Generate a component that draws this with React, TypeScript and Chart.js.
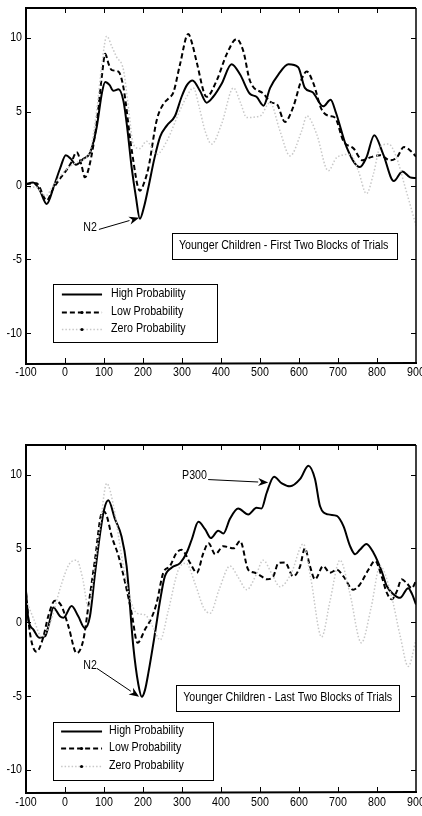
import React, { useEffect, useRef } from "react";
import { Chart, registerables } from "chart.js";

Chart.register(...registerables);

const FONT = "'Liberation Sans', Arial, sans-serif";
const SQUEEZE = 0.82; // horizontal condensing to mimic the narrow Helvetica of the original

// ---------- shared axis data ----------
const xTicks = [-100, 0, 100, 200, 300, 400, 500, 600, 700, 800, 900];
const yTicks = [-10, -5, 0, 5, 10];
const seriesLabels = ["High Probability", "Low Probability", "Zero Probability"];
const topTitle = "Younger Children - First Two Blocks of Trials";
const bottomTitle = "Younger Children - Last Two Blocks of Trials";

// ---------- top panel (first two blocks) : [time ms, amplitude µV] ----------
const topHigh: [number, number][] = [
  [-100, 0.1], [-82, 0.2], [-65, -0.3], [-47, -1.25], [-28, 0], [-12, 1.2], [2, 2.05], [15, 1.8],
  [28, 1.4], [47, 1.8], [64, 2.2], [81, 3.9], [95, 6.3], [103, 7.0], [114, 6.8], [124, 6.4],
  [137, 6.5], [150, 5.7], [160, 3.8], [171, 1.2], [182, -0.8], [192, -2.25], [203, -1.4], [214, -0.1],
  [229, 1.8], [244, 3.3], [261, 4.05], [282, 4.7], [299, 6.0], [313, 6.8], [327, 7.1], [346, 6.4],
  [363, 5.6], [380, 6.0], [402, 6.9], [427, 8.2], [449, 7.5], [474, 6.2], [491, 6.0], [509, 5.4],
  [526, 6.6], [547, 7.5], [573, 8.2], [598, 8.0], [615, 6.6], [635, 6.3], [662, 5.35], [681, 5.8],
  [695, 4.9], [722, 2.6], [756, 1.25], [773, 1.9], [793, 3.4], [816, 2.1], [843, 0.3], [865, 0.95],
  [885, 0.55], [900, 0.5],
];
const topLow: [number, number][] = [
  [-100, 0.1], [-73, 0.15], [-47, -1.0], [-30, -0.2], [-12, 0.5], [0, 0.9], [15, 1.5], [30, 2.25],
  [42, 1.4], [51, 0.55], [64, 1.5], [81, 4.2], [95, 7.5], [103, 8.9], [112, 8.2], [120, 7.8],
  [137, 7.7], [150, 6.6], [171, 2.4], [192, -0.35], [203, 0.2], [214, 1.2], [235, 4.4], [252, 5.5],
  [266, 5.9], [278, 6.3], [295, 8.2], [316, 10.25], [327, 9.5], [338, 8.3], [363, 6.0], [389, 7.1],
  [415, 8.9], [440, 9.9], [457, 9.1], [474, 7.1], [509, 6.2], [530, 5.6], [543, 5.5], [564, 4.3],
  [585, 5.3], [607, 7.2], [620, 7.7], [637, 6.9], [657, 5.2], [677, 4.7], [692, 4.6], [714, 3.0],
  [740, 2.5], [763, 1.7], [783, 1.9], [808, 2.05], [834, 1.7], [851, 1.9], [869, 2.6], [888, 2.3],
  [900, 1.95],
];
const topZero: [number, number][] = [
  [-100, -0.2], [-75, -0.1], [-50, -0.7], [-30, 0], [0, 1.0], [25, 1.5], [50, 1.8], [65, 2.4],
  [81, 5.0], [95, 8.3], [107, 10.1], [120, 9.4], [132, 8.7], [150, 7.8], [163, 5.2], [175, 2.8],
  [192, 2.5], [209, 3.0], [235, 2.1], [261, 3.0], [295, 5.1], [312, 6.0], [329, 6.6], [345, 5.2],
  [359, 3.7], [376, 2.8], [402, 4.2], [432, 6.6], [450, 5.6], [466, 4.6], [500, 4.7], [526, 5.6],
  [551, 3.7], [577, 2.0], [607, 3.7], [620, 4.7], [645, 3.5], [675, 1.0], [697, 1.9], [731, 2.1],
  [752, 1.0], [773, -0.55], [791, 0.8], [808, 2.6], [830, 2.8], [850, 1.9], [872, -0.1], [900, -2.7],
];

// ---------- bottom panel (last two blocks) ----------
const botHigh: [number, number][] = [
  [-100, 2.1], [-94, 0.2], [-81, -0.5], [-66, -1.05], [-51, -0.95], [-40, 0], [-30, 1.0], [-13, 0.4],
  [-4, 0.3], [17, 1.1], [34, 0.4], [51, -0.4], [64, 0.4], [77, 3.3], [90, 6.0], [100, 7.6],
  [111, 8.25], [128, 7.0], [145, 5.8], [158, 3.8], [175, -1.6], [188, -4.2], [197, -5.05], [205, -4.6],
  [214, -3.4], [231, -0.7], [244, 1.5], [256, 3.1], [274, 3.7], [295, 4.0], [312, 4.7], [325, 5.6],
  [342, 6.8], [359, 6.3], [374, 5.7], [393, 6.2], [406, 6.0], [423, 7.0], [444, 7.7], [470, 7.3],
  [491, 7.75], [504, 7.7], [517, 8.75], [536, 9.85], [556, 9.4], [577, 9.2], [603, 9.7], [624, 10.6],
  [641, 9.7], [654, 7.85], [675, 7.3], [697, 7.2], [714, 6.5], [731, 5.15], [744, 4.6], [756, 4.9],
  [773, 5.3], [791, 4.7], [812, 3.45], [825, 2.45], [842, 1.9], [859, 1.65], [880, 2.3], [890, 1.9],
  [900, 1.2],
];
const botLow: [number, number][] = [
  [-100, 2.0], [-90, -0.7], [-73, -2.0], [-56, -1.05], [-43, 0.4], [-26, 1.45], [-9, 1.1], [9, -0.3],
  [30, -2.1], [47, -1.2], [60, 1.1], [77, 4.25], [94, 7.4], [100, 7.5], [107, 7.2], [120, 5.8],
  [137, 4.5], [154, 2.7], [171, 0.6], [186, -1.4], [205, -0.5], [222, 0.3], [235, 1.3], [252, 3.35],
  [269, 3.8], [286, 4.7], [299, 4.9], [321, 4.0], [338, 3.35], [355, 4.7], [368, 5.35], [385, 4.6],
  [406, 5.15], [432, 5.0], [449, 5.5], [470, 3.55], [487, 3.35], [504, 3.1], [517, 2.9], [534, 3.1],
  [547, 4.0], [564, 4.05], [585, 3.1], [603, 3.8], [615, 5.0], [628, 3.8], [641, 2.9], [662, 3.8],
  [679, 3.35], [697, 3.55], [714, 3.1], [739, 2.2], [756, 2.55], [778, 3.55], [795, 4.15], [812, 3.1],
  [825, 2.0], [838, 1.55], [851, 2.1], [863, 2.9], [876, 2.65], [889, 2.3], [900, 2.8],
];
const botZero: [number, number][] = [
  [-100, 1.5], [-80, 0.2], [-60, -1.0], [-40, -0.2], [-10, 2.5], [10, 3.9], [30, 4.2], [45, 3.0],
  [60, 1.0], [75, 3.5], [90, 6.5], [107, 9.4], [125, 7.8], [145, 4.5], [165, 1.8], [185, 0.6],
  [205, 0.5], [225, -0.3], [244, -1.2], [265, 0.8], [290, 3.5], [310, 4.0], [335, 2.5], [355, 1.0],
  [372, 0.6], [395, 2.2], [423, 3.8], [445, 3.0], [466, 2.2], [490, 3.2], [508, 4.2], [530, 3.3],
  [551, 2.4], [580, 3.3], [611, 5.3], [630, 3.0], [658, -1.0], [680, 1.5], [705, 4.2], [730, 2.0],
  [760, -1.4], [785, 1.0], [808, 3.8], [835, 2.0], [860, -1.0], [880, -3.0], [900, -1.2],
];

// ---------- panel layouts (annotation anchors in data units) ----------
type Arrow = { text: string; textAt: [number, number]; from: [number, number]; to: [number, number] };
type Panel = {
  series: [number, number][][];
  yMin: number;
  yMax: number;
  height: number;
  top: number;
  padTop: number;
  xAxisH: number;
  xLabelGap: number;
  title: string;
  titleBox: { x0: number; x1: number; y0: number; y1: number; tx: number };
  legendBox: { x0: number; x1: number; y0: number; y1: number; rows: number[]; s0: number; s1: number; tx: number };
  arrows: Arrow[];
};

const panels: Panel[] = [
  {
    series: [topHigh, topLow, topZero],
    yMin: -12,
    yMax: 12,
    height: 390,
    top: 0,
    padTop: 8,
    xAxisH: 27,
    xLabelGap: 9,
    title: topTitle,
    titleBox: { x0: 274, x1: 851, y0: -3.18, y1: -4.93, tx: 292 },
    legendBox: { x0: -31, x1: 390, y0: -6.69, y1: -10.6, rows: [-7.36, -8.58, -9.73], s0: -8, s1: 95, tx: 118 },
    arrows: [{ text: "N2", textAt: [82, -2.84], from: [87, -2.97], to: [190, -2.18] }],
  },
  {
    series: [botHigh, botLow, botZero],
    yMin: -11.5,
    yMax: 12,
    height: 386,
    top: 430,
    padTop: 15,
    xAxisH: 24,
    xLabelGap: 10,
    title: bottomTitle,
    titleBox: { x0: 285, x1: 856, y0: -4.26, y1: -6.01, tx: 303 },
    legendBox: { x0: -31, x1: 379, y0: -6.76, y1: -10.68, rows: [-7.36, -8.51, -9.73], s0: -10, s1: 95, tx: 113 },
    arrows: [
      { text: "N2", textAt: [82, -2.92], from: [82, -3.13], to: [190, -5.05] },
      { text: "P300", textAt: [364, 9.93], from: [367, 9.66], to: [521, 9.46] },
    ],
  },
];

const styles = [
  { color: "#000000", width: 2, dash: [] as number[] },
  { color: "#000000", width: 2, dash: [5, 3] },
  { color: "#c8c8c8", width: 1.5, dash: [1.5, 2] },
];

function text(ctx: CanvasRenderingContext2D, s: string, x: number, y: number, align: CanvasTextAlign) {
  ctx.save();
  ctx.translate(x, y);
  ctx.scale(SQUEEZE, 1);
  ctx.textAlign = align;
  ctx.textBaseline = "middle";
  ctx.fillText(s, 0, 0);
  ctx.restore();
}

function drawArrow(ctx: CanvasRenderingContext2D, x1: number, y1: number, x2: number, y2: number) {
  const ang = Math.atan2(y2 - y1, x2 - x1);
  const L = 10;
  const W = 4;
  const bx = x2 - L * Math.cos(ang);
  const by = y2 - L * Math.sin(ang);
  ctx.beginPath();
  ctx.moveTo(x1, y1);
  ctx.lineTo(bx, by);
  ctx.lineWidth = 1;
  ctx.stroke();
  ctx.beginPath();
  ctx.moveTo(x2, y2);
  ctx.lineTo(bx + W * Math.sin(ang), by - W * Math.cos(ang));
  ctx.lineTo(bx + 3 * Math.cos(ang), by + 3 * Math.sin(ang));
  ctx.lineTo(bx - W * Math.sin(ang), by + W * Math.cos(ang));
  ctx.closePath();
  ctx.fill();
}

function makePlugin(panel: Panel) {
  return {
    id: "matlabFrame",
    afterDraw(chart: any) {
      const { ctx, chartArea: a, scales } = chart;
      const X = (v: number) => scales.x.getPixelForValue(v);
      const Y = (v: number) => scales.y.getPixelForValue(v);
      ctx.save();
      ctx.strokeStyle = "#000";
      ctx.fillStyle = "#000";
      ctx.setLineDash([]);
      // inward ticks
      ctx.lineWidth = 1;
      ctx.beginPath();
      xTicks.forEach((v) => {
        if (v === xTicks[0] || v === xTicks[xTicks.length - 1]) return;
        const x = Math.round(X(v)) + 0.5;
        ctx.moveTo(x, a.bottom);
        ctx.lineTo(x, a.bottom - 5);
        ctx.moveTo(x, a.top);
        ctx.lineTo(x, a.top + 5);
      });
      yTicks.forEach((v) => {
        const y = Math.round(Y(v)) + 0.5;
        ctx.moveTo(a.left, y);
        ctx.lineTo(a.left + 5, y);
        ctx.moveTo(a.right, y);
        ctx.lineTo(a.right - 5, y);
      });
      ctx.stroke();
      // frame
      ctx.lineWidth = 2;
      ctx.beginPath();
      ctx.moveTo(a.left, a.top);
      ctx.lineTo(a.right, a.top);
      ctx.moveTo(a.left, a.top - 1);
      ctx.lineTo(a.left, a.bottom + 1);
      ctx.lineTo(a.right + 1, a.bottom);
      ctx.stroke();
      ctx.lineWidth = 1.5;
      ctx.beginPath();
      ctx.moveTo(a.right, a.top);
      ctx.lineTo(a.right, a.bottom);
      ctx.stroke();

      ctx.font = `13px ${FONT}`;

      // tick labels
      xTicks.forEach((v) => text(ctx, String(v), X(v), a.bottom + panel.xLabelGap, "center"));
      yTicks.forEach((v) => text(ctx, String(v), a.left - 4, Y(v), "right"));

      // title box
      const tb = panel.titleBox;
      const tx0 = Math.round(X(tb.x0)) + 0.5;
      const ty0 = Math.round(Y(tb.y0)) + 0.5;
      const tw = Math.round(X(tb.x1) - X(tb.x0));
      const th = Math.round(Y(tb.y1) - Y(tb.y0));
      ctx.fillStyle = "#fff";
      ctx.fillRect(tx0, ty0, tw, th);
      ctx.lineWidth = 1;
      ctx.strokeRect(tx0, ty0, tw, th);
      ctx.fillStyle = "#000";
      text(ctx, panel.title, X(tb.tx), ty0 + th / 2 - 1, "left");

      // legend box
      const lb = panel.legendBox;
      const lx0 = Math.round(X(lb.x0)) + 0.5;
      const ly0 = Math.round(Y(lb.y0)) + 0.5;
      const lw = Math.round(X(lb.x1) - X(lb.x0));
      const lh = Math.round(Y(lb.y1) - Y(lb.y0));
      ctx.fillStyle = "#fff";
      ctx.fillRect(lx0, ly0, lw, lh);
      ctx.strokeStyle = "#000";
      ctx.lineWidth = 1;
      ctx.strokeRect(lx0, ly0, lw, lh);
      lb.rows.forEach((rv, i) => {
        const y = Math.round(Y(rv)) + 0.5;
        const s = styles[i];
        ctx.strokeStyle = s.color;
        ctx.lineWidth = s.width;
        ctx.setLineDash(s.dash);
        ctx.beginPath();
        ctx.moveTo(X(lb.s0), y);
        ctx.lineTo(X(lb.s1), y);
        ctx.stroke();
        ctx.setLineDash([]);
        if (i > 0) {
          ctx.fillStyle = "#000";
          ctx.beginPath();
          ctx.arc((X(lb.s0) + X(lb.s1)) / 2, y, 1.6, 0, Math.PI * 2);
          ctx.fill();
        }
        ctx.fillStyle = "#000";
        text(ctx, seriesLabels[i], X(lb.tx), y - 1, "left");
      });

      // arrows and labels
      ctx.strokeStyle = "#000";
      ctx.fillStyle = "#000";
      panel.arrows.forEach((ar) => {
        text(ctx, ar.text, X(ar.textAt[0]), Y(ar.textAt[1]), "right");
        drawArrow(ctx, X(ar.from[0]), Y(ar.from[1]), X(ar.to[0]), Y(ar.to[1]));
      });
      ctx.restore();
    },
  };
}

function PanelChart({ panel }: { panel: Panel }) {
  const ref = useRef<HTMLCanvasElement | null>(null);
  useEffect(() => {
    if (!ref.current) return;
    const datasets = panel.series.map((pts, i) => ({
      label: seriesLabels[i],
      data: pts.map(([x, y]) => ({ x, y })),
      borderColor: styles[i].color,
      borderWidth: styles[i].width,
      borderDash: styles[i].dash,
      pointRadius: 0,
      fill: false,
      cubicInterpolationMode: "monotone" as const,
      order: 2 - i,
    }));
    const chart = new Chart(ref.current, {
      type: "line",
      data: { datasets: datasets as any },
      plugins: [makePlugin(panel) as any],
      options: {
        animation: false,
        responsive: false,
        maintainAspectRatio: false,
        layout: { padding: { top: panel.padTop, right: 6, left: 0, bottom: 0 } },
        plugins: { legend: { display: false }, tooltip: { enabled: false } },
        scales: {
          x: {
            type: "linear",
            min: -100,
            max: 900,
            grid: { display: false, drawTicks: false },
            border: { display: false },
            afterBuildTicks: (s: any) => {
              s.ticks = xTicks.map((v) => ({ value: v }));
            },
            afterFit: (s: any) => {
              s.height = panel.xAxisH;
              s.paddingLeft = 0;
              s.paddingRight = 0;
            },
            ticks: { display: false },
          },
          y: {
            type: "linear",
            min: panel.yMin,
            max: panel.yMax,
            grid: { display: false, drawTicks: false },
            border: { display: false },
            afterBuildTicks: (s: any) => {
              s.ticks = yTicks.map((v) => ({ value: v }));
            },
            afterFit: (s: any) => {
              s.width = 26;
              s.paddingTop = 0;
              s.paddingBottom = 0;
            },
            ticks: { display: false },
          },
        },
      } as any,
    });
    return () => chart.destroy();
  }, [panel]);
  return (
    <canvas
      ref={ref}
      width={422}
      height={panel.height}
      style={{ position: "absolute", left: 0, top: panel.top, width: 422, height: panel.height, display: "block" }}
    />
  );
}

export default function App() {
  return (
    <div style={{ position: "absolute", left: 0, top: 0, width: 422, height: 816, background: "#fff", overflow: "hidden" }}>
      {panels.map((p, i) => (
        <PanelChart key={i} panel={p} />
      ))}
    </div>
  );
}
